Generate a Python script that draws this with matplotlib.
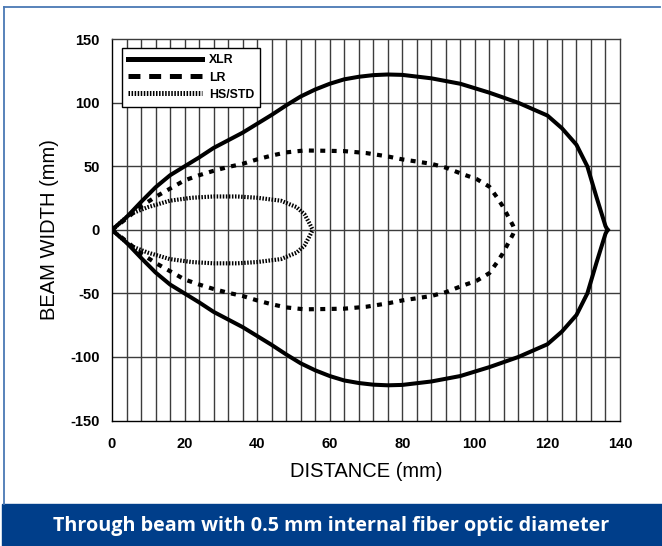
import matplotlib
matplotlib.use("Agg")
import matplotlib.pyplot as plt
from matplotlib import font_manager
from matplotlib.lines import Line2D
from matplotlib.patches import Rectangle

# ---------------- data (upper half of each beam envelope, mm) ----------------
xlr_x = [0, 4, 8, 12, 16, 20, 24, 28, 32, 36, 40, 44, 48, 52, 56, 60, 64, 68,
         72, 76, 80, 88, 96, 104, 112, 120, 124, 128, 131, 133.5, 136, 136.6]
xlr_y_up = [0, 10, 22, 33.5, 43, 50, 57, 64.5, 70.5, 76.5, 83.5, 90.5, 98, 105,
            110.5, 115, 118.5, 120.5, 121.8, 122.3, 122, 119.3, 115, 108, 100,
            90, 80, 67, 50, 26, 3, 0]
xlr_y_low = [0, -10, -22, -33.5, -43, -50, -57, -64.5, -70.5, -76.5, -83.5, -90.5,
             -98, -105, -110.5, -115, -118.5, -120.5, -121.8, -122.3, -122, -119.3,
             -115, -108, -100, -90, -80, -67, -50, -26, -3, 0]

lr_x = [0, 4, 8, 12, 16, 20, 24, 28, 32, 36, 40, 44, 48, 53, 58, 64, 70, 76, 80,
        84, 88, 92, 96.5, 100.5, 104, 106, 107.7, 109, 110.5, 111]
lr_y_up = [0, 9, 18.5, 26, 32.5, 39, 43, 46.5, 49.5, 52, 55.5, 58.5, 61, 62.5,
           62.3, 62, 60.5, 57.8, 55.5, 53.8, 52, 49, 44, 40, 34, 26, 18.5, 11.5,
           3.5, 0]
lr_y_low = [0, -9, -18.5, -26, -32.5, -39, -43, -46.5, -49.5, -52, -55.5, -58.5,
            -61, -62.5, -62.3, -62, -60.5, -57.8, -55.5, -53.8, -52, -49, -44, -40,
            -34, -26, -18.5, -11.5, -3.5, 0]

hs_x = [0, 5, 10, 16, 22, 28, 34.5, 40, 46.5, 50.8, 53, 54.5, 55.3]
hs_y_up = [0, 12.5, 18, 23, 25.3, 26.3, 26.3, 25.3, 23, 18, 12.5, 4.7, 0]
hs_y_low = [0, -12.5, -18, -23, -25.3, -26.3, -26.3, -25.3, -23, -18, -12.5, -4.7, 0]

series_names = ["XLR", "LR", "HS/STD"]
x_ticks = [0, 20, 40, 60, 80, 100, 120, 140]
y_ticks = [-150, -100, -50, 0, 50, 100, 150]
x_label = "DISTANCE (mm)"
y_label = "BEAM WIDTH (mm)"
banner_text = "Through beam with 0.5 mm internal fiber optic diameter"

# ---------------- fonts ----------------
names = {f.name for f in font_manager.fontManager.ttflist}
NARROW = "Liberation Sans Narrow" in names
if NARROW:
    FAM = ["Liberation Sans Narrow", "Liberation Sans", "DejaVu Sans"]
    tick_fs, label_fs, leg_fs = 11.7, 17.5, 9.5
else:
    FAM = ["Liberation Sans", "DejaVu Sans"]
    tick_fs, label_fs, leg_fs = 10.5, 14.5, 8.8
plt.rcParams["font.family"] = FAM
plt.rcParams["lines.scale_dashes"] = False
plt.rcParams["axes.unicode_minus"] = False

W, H = 662, 546
fig = plt.figure(figsize=(W / 100, H / 100), dpi=100)

# ---------------- outer frame and banner ----------------
blue = "#003e8a"
fig.add_artist(Line2D([4 / W, 4 / W], [1 - 7 / H, 1 - 504 / H], color="#4a78b4",
                      lw=1.3, transform=fig.transFigure))
fig.add_artist(Line2D([4 / W, 660 / W], [1 - 7 / H, 1 - 7 / H], color="#4a78b4",
                      lw=1.3, transform=fig.transFigure))
fig.add_artist(Rectangle((2 / W, 0), 1, 42 / H, color=blue,
                         transform=fig.transFigure, zorder=0))
fig.text(331 / W, 1 - 526 / H, banner_text, color="white", ha="center",
         va="center", fontsize=14.2, fontweight="bold",
         family=["Open Sans", "DejaVu Sans"])

# ---------------- axes ----------------
ax = fig.add_axes([112 / W, 1 - 420.5 / H, 508 / W, (420.5 - 39.3) / H])
ax.set_xlim(0, 140)
ax.set_ylim(-150, 150)

grid_c = "#3c3c3c"
for gx in range(4, 140, 4):
    ax.axvline(gx, color=grid_c, lw=1.0, zorder=1)
for gy in [-100, -50, 0, 50, 100]:
    ax.axhline(gy, color=grid_c, lw=1.0, zorder=1)

for s in ax.spines.values():
    s.set_color(grid_c)
    s.set_linewidth(1.0)
ax.spines["left"].set_color("black")
ax.spines["bottom"].set_color("black")

ax.set_xticks(x_ticks)
ax.set_yticks(y_ticks)
ax.tick_params(length=0, labelsize=tick_fs)
ax.tick_params(axis="x", pad=12)
ax.tick_params(axis="y", pad=9)
for lab in ax.get_xticklabels() + ax.get_yticklabels():
    lab.set_fontweight("bold")

ax.set_xlabel(x_label, fontsize=label_fs, labelpad=8)
ax.set_ylabel(y_label, fontsize=label_fs, labelpad=8)

# ---------------- curves ----------------
ax.plot(xlr_x, xlr_y_up, color="black", lw=2.9, solid_joinstyle="round", zorder=3)
ax.plot(xlr_x, xlr_y_low, color="black", lw=2.9, solid_joinstyle="round", zorder=3)
ax.plot(lr_x, lr_y_up, color="black", lw=3.0, dashes=(3.6, 4.6), zorder=3)
ax.plot(lr_x, lr_y_low, color="black", lw=3.0, dashes=(3.6, 4.6), zorder=3)
ax.plot(hs_x, hs_y_up, color="black", lw=3.0, dashes=(1.1, 1.1), zorder=3)
ax.plot(hs_x, hs_y_low, color="black", lw=3.0, dashes=(1.1, 1.1), zorder=3)

# ---------------- legend ----------------
handles = [
    Line2D([], [], color="black", lw=3.6),
    Line2D([], [], color="black", lw=3.6, dashes=(8.6, 6.3)),
    Line2D([], [], color="black", lw=3.6, dashes=(1.1, 1.1)),
]
leg = ax.legend(handles, series_names, loc="upper left",
                bbox_to_anchor=(9.7 / 508, 1 - 9 / 381.2), borderaxespad=0,
                fancybox=False, framealpha=1, edgecolor="black",
                borderpad=0.5, handlelength=53.3 / leg_fs, handletextpad=0.57,
                labelspacing=0.42, prop={"size": leg_fs, "weight": "bold"})
leg.get_frame().set_linewidth(1.0)
leg.set_zorder(5)

fig.savefig("out.png", dpi=100)
